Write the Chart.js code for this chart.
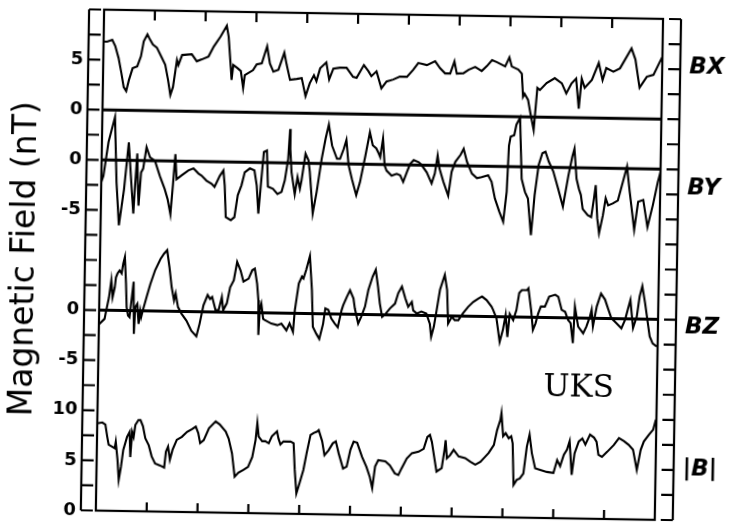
<!DOCTYPE html>
<html>
<head>
<meta charset="utf-8">
<script src="https://cdn.jsdelivr.net/npm/chart.js@4"></script>
<style>
  html, body { margin: 0; background: #fff; }
  #wrap { width: 731px; height: 522px; overflow: hidden; }
  #chart { display: block; transform: rotate(0.95deg); }
</style>
</head>
<body>
<div id="wrap"><canvas id="chart" width="731" height="522"></canvas></div>
<script>
// [hours, nT] pairs for each field component
const bx = [[0,6.8],[0.07,6.8],[0.17,7.0],[0.23,6.4],[0.30,5.2],[0.36,3.7],[0.41,2.3],[0.46,1.9],[0.51,3.0],[0.58,4.2],[0.67,4.4],[0.74,5.4],[0.79,6.9],[0.86,7.6],[0.90,7.2],[0.97,6.6],[1.05,6.3],[1.15,5.3],[1.22,4.6],[1.28,3.1],[1.33,1.6],[1.38,2.4],[1.45,5.1],[1.48,4.6],[1.55,5.6],[1.74,5.7],[1.84,5.0],[1.94,5.2],[2.07,5.5],[2.17,6.5],[2.30,7.5],[2.42,8.6],[2.46,7.5],[2.51,4.5],[2.53,3.2],[2.56,4.7],[2.64,4.4],[2.71,4.1],[2.76,2.4],[2.79,3.7],[2.95,4.2],[3.02,4.8],[3.12,4.9],[3.22,6.6],[3.28,4.9],[3.35,4.1],[3.45,4.3],[3.56,6.0],[3.61,4.8],[3.68,3.3],[3.81,3.4],[3.91,3.5],[3.99,1.7],[4.07,3.0],[4.15,3.8],[4.20,3.2],[4.27,4.5],[4.39,5.1],[4.45,3.4],[4.53,4.5],[4.66,4.6],[4.79,4.6],[4.92,3.7],[4.99,3.6],[5.13,4.9],[5.22,4.3],[5.28,3.8],[5.38,4.3],[5.48,2.6],[5.58,3.3],[5.71,3.5],[5.84,3.8],[5.98,3.8],[6.10,4.5],[6.20,5.2],[6.37,5.0],[6.53,5.4],[6.63,4.7],[6.73,4.2],[6.83,4.2],[6.91,5.4],[6.96,4.2],[7.09,4.25],[7.19,4.6],[7.32,4.9],[7.45,4.5],[7.55,5.0],[7.65,5.6],[7.75,5.4],[7.91,5.0],[7.99,5.9],[8.04,5.0],[8.17,4.7],[8.24,4.3],[8.27,2.0],[8.30,2.3],[8.37,1.7],[8.42,0.4],[8.49,-1.3],[8.55,2.9],[8.60,2.7],[8.73,3.4],[8.89,3.9],[9.03,3.4],[9.12,2.4],[9.22,3.4],[9.31,3.9],[9.37,0.9],[9.42,3.9],[9.48,3.0],[9.62,3.8],[9.75,5.5],[9.83,3.8],[9.90,5.0],[10.04,4.65],[10.17,5.0],[10.39,7.0],[10.47,5.9],[10.56,3.1],[10.70,4.2],[10.83,4.4],[10.95,5.7],[11.0,6.2]];

const by = [[0,-2.2],[0.04,-1.6],[0.13,1.8],[0.25,4.3],[0.30,-2.2],[0.36,-6.5],[0.45,-2.9],[0.53,1.8],[0.58,-1.5],[0.64,-5.3],[0.67,-2.2],[0.70,0.7],[0.72,-2.2],[0.74,-4.5],[0.78,-1.2],[0.82,-0.8],[0.88,1.35],[0.95,0.35],[1.05,0.0],[1.15,-1.5],[1.25,-2.8],[1.31,-3.8],[1.37,-5.3],[1.41,-2.45],[1.45,0.7],[1.48,-1.8],[1.58,-1.4],[1.71,-0.9],[1.81,-0.7],[1.91,-1.2],[1.97,-1.4],[2.07,-1.9],[2.17,-2.2],[2.23,-2.5],[2.33,-1.4],[2.40,-0.85],[2.43,-2.35],[2.46,-5.5],[2.56,-5.8],[2.63,-5.5],[2.69,-3.3],[2.76,-2.3],[2.82,-1.0],[2.92,-0.6],[3.01,-0.8],[3.06,-2.3],[3.10,-5.1],[3.15,-1.6],[3.19,1.05],[3.25,1.2],[3.28,-2.4],[3.38,-2.6],[3.47,-3.1],[3.55,-2.9],[3.61,-1.75],[3.67,0.4],[3.70,3.4],[3.71,1.4],[3.74,-0.9],[3.81,-3.1],[3.86,-1.4],[3.91,-2.55],[3.94,-1.7],[4.01,0.95],[4.07,0.3],[4.10,-0.85],[4.17,-5.0],[4.24,-2.85],[4.33,0.5],[4.40,2.5],[4.46,3.9],[4.53,1.8],[4.63,0.5],[4.69,0.5],[4.76,1.5],[4.81,2.4],[4.86,-0.1],[4.93,-1.5],[5.02,-3.1],[5.09,-1.8],[5.19,0.9],[5.27,3.2],[5.33,1.9],[5.40,1.6],[5.45,1.1],[5.48,0.75],[5.53,2.6],[5.57,-0.1],[5.61,-0.6],[5.71,-1.1],[5.81,-0.9],[5.88,-1.05],[5.94,-1.7],[6.01,-0.7],[6.07,0.1],[6.14,0.5],[6.24,0.3],[6.30,0.0],[6.40,-0.7],[6.50,-1.8],[6.56,-0.8],[6.61,1.0],[6.65,-0.3],[6.73,-1.6],[6.83,-3.0],[6.89,-0.6],[6.96,0.4],[7.06,1.1],[7.12,1.7],[7.19,0.4],[7.29,-0.75],[7.39,-1.2],[7.48,-1.1],[7.61,-0.9],[7.68,-1.55],[7.75,-3.2],[7.84,-4.5],[7.92,-5.5],[7.98,-2.5],[8.01,2.1],[8.04,3.0],[8.11,3.15],[8.15,4.2],[8.22,4.9],[8.27,-1.2],[8.34,-2.5],[8.40,-3.15],[8.47,-6.8],[8.53,-2.8],[8.60,0.2],[8.67,1.4],[8.73,1.55],[8.80,0.55],[8.89,-0.4],[8.99,-2.1],[9.09,-3.9],[9.19,-0.75],[9.26,1.1],[9.30,1.9],[9.35,-1.1],[9.40,-2.1],[9.44,-2.7],[9.48,-4.1],[9.58,-4.7],[9.65,-4.9],[9.70,-3.0],[9.73,-1.7],[9.77,-5.0],[9.81,-6.5],[9.88,-4.7],[9.93,-3.0],[9.98,-3.7],[10.07,-3.5],[10.17,-3.2],[10.24,-1.8],[10.34,0.2],[10.40,-2.3],[10.50,-6.1],[10.57,-3.3],[10.67,-3.1],[10.76,-5.8],[10.86,-3.6],[10.95,-1.3],[11.0,-0.3]];

const bz = [[0,-1.4],[0.11,-0.85],[0.14,0.0],[0.19,1.3],[0.23,3.0],[0.26,1.3],[0.30,2.3],[0.32,3.3],[0.35,3.7],[0.39,4.0],[0.43,3.7],[0.46,4.7],[0.49,5.35],[0.52,2.7],[0.54,0.35],[0.57,-0.5],[0.60,-0.65],[0.67,2.9],[0.69,-2.3],[0.71,0.35],[0.75,0.7],[0.78,-1.3],[0.81,0.0],[0.83,-0.6],[0.86,0.05],[0.93,1.4],[1.00,2.7],[1.09,4.1],[1.19,5.2],[1.26,5.75],[1.32,6.1],[1.37,4.4],[1.42,2.4],[1.47,1.1],[1.50,1.8],[1.55,0.45],[1.62,-0.2],[1.72,-0.9],[1.82,-1.9],[1.92,-2.45],[1.98,-1.2],[2.05,0.65],[2.13,1.7],[2.18,1.3],[2.22,1.5],[2.29,0.2],[2.35,0.2],[2.41,1.5],[2.44,0.2],[2.51,0.9],[2.57,2.5],[2.64,3.2],[2.70,5.05],[2.77,4.2],[2.83,3.1],[2.93,3.4],[3.00,4.25],[3.05,4.4],[3.10,2.9],[3.13,1.25],[3.14,-2.2],[3.16,0.3],[3.19,0.9],[3.23,-0.6],[3.26,-0.7],[3.39,-1.05],[3.51,-1.2],[3.59,-1.05],[3.69,-1.7],[3.75,-1.0],[3.82,-1.85],[3.85,0.3],[3.92,3.0],[3.98,3.7],[4.01,3.5],[4.06,4.35],[4.13,5.75],[4.18,2.35],[4.21,-1.3],[4.28,-2.0],[4.34,-2.5],[4.41,-1.0],[4.45,0.55],[4.51,0.4],[4.57,-0.45],[4.64,-0.95],[4.70,-1.3],[4.77,0.4],[4.80,0.9],[4.87,1.75],[4.93,2.4],[5.00,1.6],[5.03,0.6],[5.10,-0.9],[5.16,-0.2],[5.23,0.8],[5.29,2.45],[5.37,3.8],[5.43,4.5],[5.48,2.8],[5.52,1.15],[5.57,-0.2],[5.62,0.0],[5.72,0.65],[5.82,1.15],[5.88,2.2],[5.95,2.85],[6.02,1.7],[6.08,0.85],[6.15,1.35],[6.18,0.5],[6.25,0.2],[6.34,0.4],[6.44,0.2],[6.51,-0.8],[6.54,-2.1],[6.59,-1.1],[6.64,0.55],[6.70,2.6],[6.79,4.1],[6.84,2.6],[6.87,-0.75],[6.94,-0.1],[7.00,-0.4],[7.07,-0.4],[7.16,0.3],[7.26,0.95],[7.36,1.45],[7.46,1.8],[7.53,2.0],[7.62,1.65],[7.72,1.0],[7.75,0.7],[7.82,-0.15],[7.89,-2.5],[7.95,-1.3],[8.00,0.2],[8.04,-2.0],[8.08,0.3],[8.15,-0.3],[8.21,0.7],[8.26,2.4],[8.31,2.7],[8.41,2.7],[8.44,2.9],[8.50,0.7],[8.54,-1.25],[8.59,-0.6],[8.64,0.4],[8.69,1.1],[8.77,1.1],[8.85,2.1],[8.97,2.3],[9.03,2.1],[9.10,0.8],[9.17,0.6],[9.23,-0.2],[9.28,-0.5],[9.33,-2.5],[9.36,1.15],[9.43,-0.85],[9.53,-1.5],[9.59,-0.85],[9.66,0.2],[9.69,0.85],[9.72,-0.8],[9.79,1.2],[9.87,2.5],[9.95,1.9],[10.02,0.9],[10.08,0.05],[10.18,-0.45],[10.28,-0.95],[10.35,-0.1],[10.40,0.9],[10.45,1.9],[10.51,-0.9],[10.58,0.25],[10.63,2.25],[10.68,3.3],[10.74,1.6],[10.79,-0.05],[10.84,-1.7],[10.90,-2.4],[10.98,-2.7]];

const bTotal = [[0,8.7],[0.10,8.8],[0.16,8.6],[0.20,7.4],[0.23,6.6],[0.30,6.4],[0.35,6.25],[0.37,6.9],[0.41,5.1],[0.44,3.1],[0.48,4.4],[0.52,6.1],[0.59,7.4],[0.64,7.9],[0.66,5.4],[0.69,7.9],[0.72,7.4],[0.75,8.6],[0.81,9.1],[0.85,9.1],[0.90,8.5],[0.95,7.3],[1.02,6.6],[1.08,5.5],[1.15,4.8],[1.25,4.6],[1.33,4.4],[1.36,6.0],[1.40,6.5],[1.44,5.2],[1.49,6.2],[1.57,7.2],[1.67,7.5],[1.77,8.0],[1.87,8.3],[1.94,8.55],[1.99,7.9],[2.03,6.9],[2.10,7.2],[2.20,8.4],[2.33,9.1],[2.41,8.8],[2.53,8.1],[2.59,7.4],[2.66,5.95],[2.72,3.6],[2.79,4.0],[2.89,4.3],[2.98,4.6],[3.06,5.6],[3.12,7.3],[3.15,9.0],[3.18,7.65],[3.25,7.2],[3.31,7.2],[3.38,7.0],[3.44,7.7],[3.54,8.2],[3.57,7.5],[3.61,6.9],[3.67,7.2],[3.81,7.2],[3.87,7.05],[3.90,4.4],[3.94,2.05],[4.00,3.1],[4.07,4.4],[4.13,6.1],[4.20,7.9],[4.26,8.1],[4.33,8.25],[4.36,8.4],[4.43,7.3],[4.48,5.9],[4.56,6.4],[4.64,7.1],[4.70,7.3],[4.76,6.1],[4.85,4.6],[4.92,4.8],[4.99,6.5],[5.05,7.3],[5.12,7.2],[5.22,5.8],[5.31,4.8],[5.38,3.8],[5.43,2.7],[5.48,4.85],[5.54,5.5],[5.68,5.4],[5.77,5.0],[5.87,4.2],[5.94,4.05],[6.00,4.7],[6.10,5.7],[6.20,6.25],[6.33,6.4],[6.43,6.7],[6.50,7.9],[6.55,8.1],[6.59,7.4],[6.64,5.9],[6.69,4.45],[6.79,4.8],[6.84,6.6],[6.86,7.6],[6.89,5.8],[6.95,6.1],[7.02,6.65],[7.12,6.0],[7.25,5.85],[7.35,5.5],[7.45,5.2],[7.55,5.5],[7.64,6.0],[7.71,6.4],[7.81,7.2],[7.87,8.7],[7.93,9.7],[7.95,10.4],[7.99,8.1],[8.04,8.4],[8.10,7.9],[8.15,8.1],[8.18,7.4],[8.21,3.25],[8.27,3.75],[8.33,3.9],[8.40,4.4],[8.46,7.1],[8.51,8.3],[8.56,6.45],[8.63,4.95],[8.73,4.8],[8.86,4.6],[8.99,4.5],[9.06,5.8],[9.12,5.2],[9.19,6.35],[9.25,6.85],[9.30,7.7],[9.35,4.35],[9.40,6.5],[9.48,7.7],[9.55,8.0],[9.61,7.4],[9.70,8.4],[9.78,8.1],[9.83,7.7],[9.87,6.4],[9.94,6.2],[10.04,6.7],[10.17,7.4],[10.27,8.1],[10.37,7.8],[10.46,7.45],[10.55,6.95],[10.63,4.95],[10.70,6.95],[10.76,7.8],[10.86,8.5],[10.94,9.0],[10.99,10.0]];

const seriesNames = ['BX', 'BY', 'BZ', '|B|'];
const seriesOffsets = [40, 35, 20, 0];          // each trace is stacked on a shared nT axis
const nameLevels = [45.2, 33.1, 19.3, 5.1];     // where the component names sit on the right
const leftTickValues = [45, 40, 35, 30, 20, 15, 10, 5, 0];
const leftTickLabels = ['5', '0', '0', '-5', '0', '-5', '10', '5', '0'];
const stationLabel = 'UKS';
const ink = '#000';

const traces = [bx, by, bz, bTotal];
const datasets = traces.map((pts, i) => ({
  data: pts.map(p => ({ x: p[0], y: p[1] + seriesOffsets[i] })),
  borderColor: ink,
  borderWidth: 2.1,
  pointRadius: 0,
  tension: 0
}));
// zero lines under the three components
for (let i = 0; i < 3; i++) {
  datasets.push({
    data: [{ x: 0, y: seriesOffsets[i] }, { x: 11, y: seriesOffsets[i] }],
    borderColor: ink,
    borderWidth: 3,
    pointRadius: 0
  });
}

const noPad = s => { s.paddingTop = 0; s.paddingBottom = 0; };

// box, inward hour ticks, the two bracket scales and the station name
const figureDecor = {
  id: 'figureDecor',
  afterDraw(chart) {
    const { ctx, chartArea: a, scales } = chart;
    const xs = scales.x, ys = scales.y;
    ctx.save();
    ctx.strokeStyle = ink;
    ctx.lineWidth = 2.2;
    ctx.strokeRect(a.left, a.top, a.right - a.left, a.bottom - a.top);
    ctx.beginPath();
    for (let h = 1; h < 11; h++) {
      const px = xs.getPixelForValue(h);
      ctx.moveTo(px, a.top); ctx.lineTo(px, a.top + 10);
      ctx.moveTo(px, a.bottom); ctx.lineTo(px, a.bottom - 9);
    }
    const lx = a.left - 15, rx = a.right + 18;
    ctx.moveTo(lx, ys.getPixelForValue(50)); ctx.lineTo(lx, ys.getPixelForValue(0));
    ctx.moveTo(rx, ys.getPixelForValue(50)); ctx.lineTo(rx, ys.getPixelForValue(0));
    for (let v = 0; v <= 50; v += 2.5) {
      const py = ys.getPixelForValue(v);
      ctx.moveTo(lx, py); ctx.lineTo(lx + 12, py);
      ctx.moveTo(rx, py); ctx.lineTo(rx - 12, py);
    }
    ctx.stroke();
    ctx.fillStyle = ink;
    ctx.font = '31px "DejaVu Serif"';
    ctx.textAlign = 'center';
    ctx.textBaseline = 'middle';
    ctx.fillText(stationLabel, xs.getPixelForValue(9.46), ys.getPixelForValue(13));
    ctx.restore();
  }
};

new Chart(document.getElementById('chart'), {
  type: 'line',
  data: { datasets },
  options: {
    responsive: false,
    animation: false,
    layout: { padding: { top: 14, bottom: 7, left: 0, right: 0 } },
    plugins: { legend: { display: false }, tooltip: { enabled: false } },
    scales: {
      x: { type: 'linear', min: 0, max: 11, display: false },
      y: {
        position: 'left', min: 0, max: 50,
        afterBuildTicks: s => { s.ticks = leftTickValues.map(v => ({ value: v })); },
        afterFit: s => { s.width = 100; noPad(s); },
        grid: { display: false, drawTicks: false },
        border: { display: false },
        ticks: {
          autoSkip: false, padding: 20, color: ink,
          font: { family: 'DejaVu Sans', size: 18, weight: 'bold' },
          callback: (v, i) => leftTickLabels[i]
        },
        title: {
          display: true, text: 'Magnetic Field (nT)', color: ink,
          font: { family: 'DejaVu Sans', size: 33 },
          padding: { top: 6, bottom: 0 }
        }
      },
      y2: {
        position: 'right', min: 0, max: 50,
        afterBuildTicks: s => { s.ticks = nameLevels.map(v => ({ value: v })); },
        afterFit: s => { s.width = 72; noPad(s); },
        grid: { display: false, drawTicks: false },
        border: { display: false },
        ticks: {
          autoSkip: false, padding: 27, color: ink,
          font: { family: 'DejaVu Sans', size: 23, weight: 'bold', style: 'italic' },
          callback: (v, i) => seriesNames[i]
        }
      }
    }
  },
  plugins: [figureDecor]
});
</script>
</body>
</html>
